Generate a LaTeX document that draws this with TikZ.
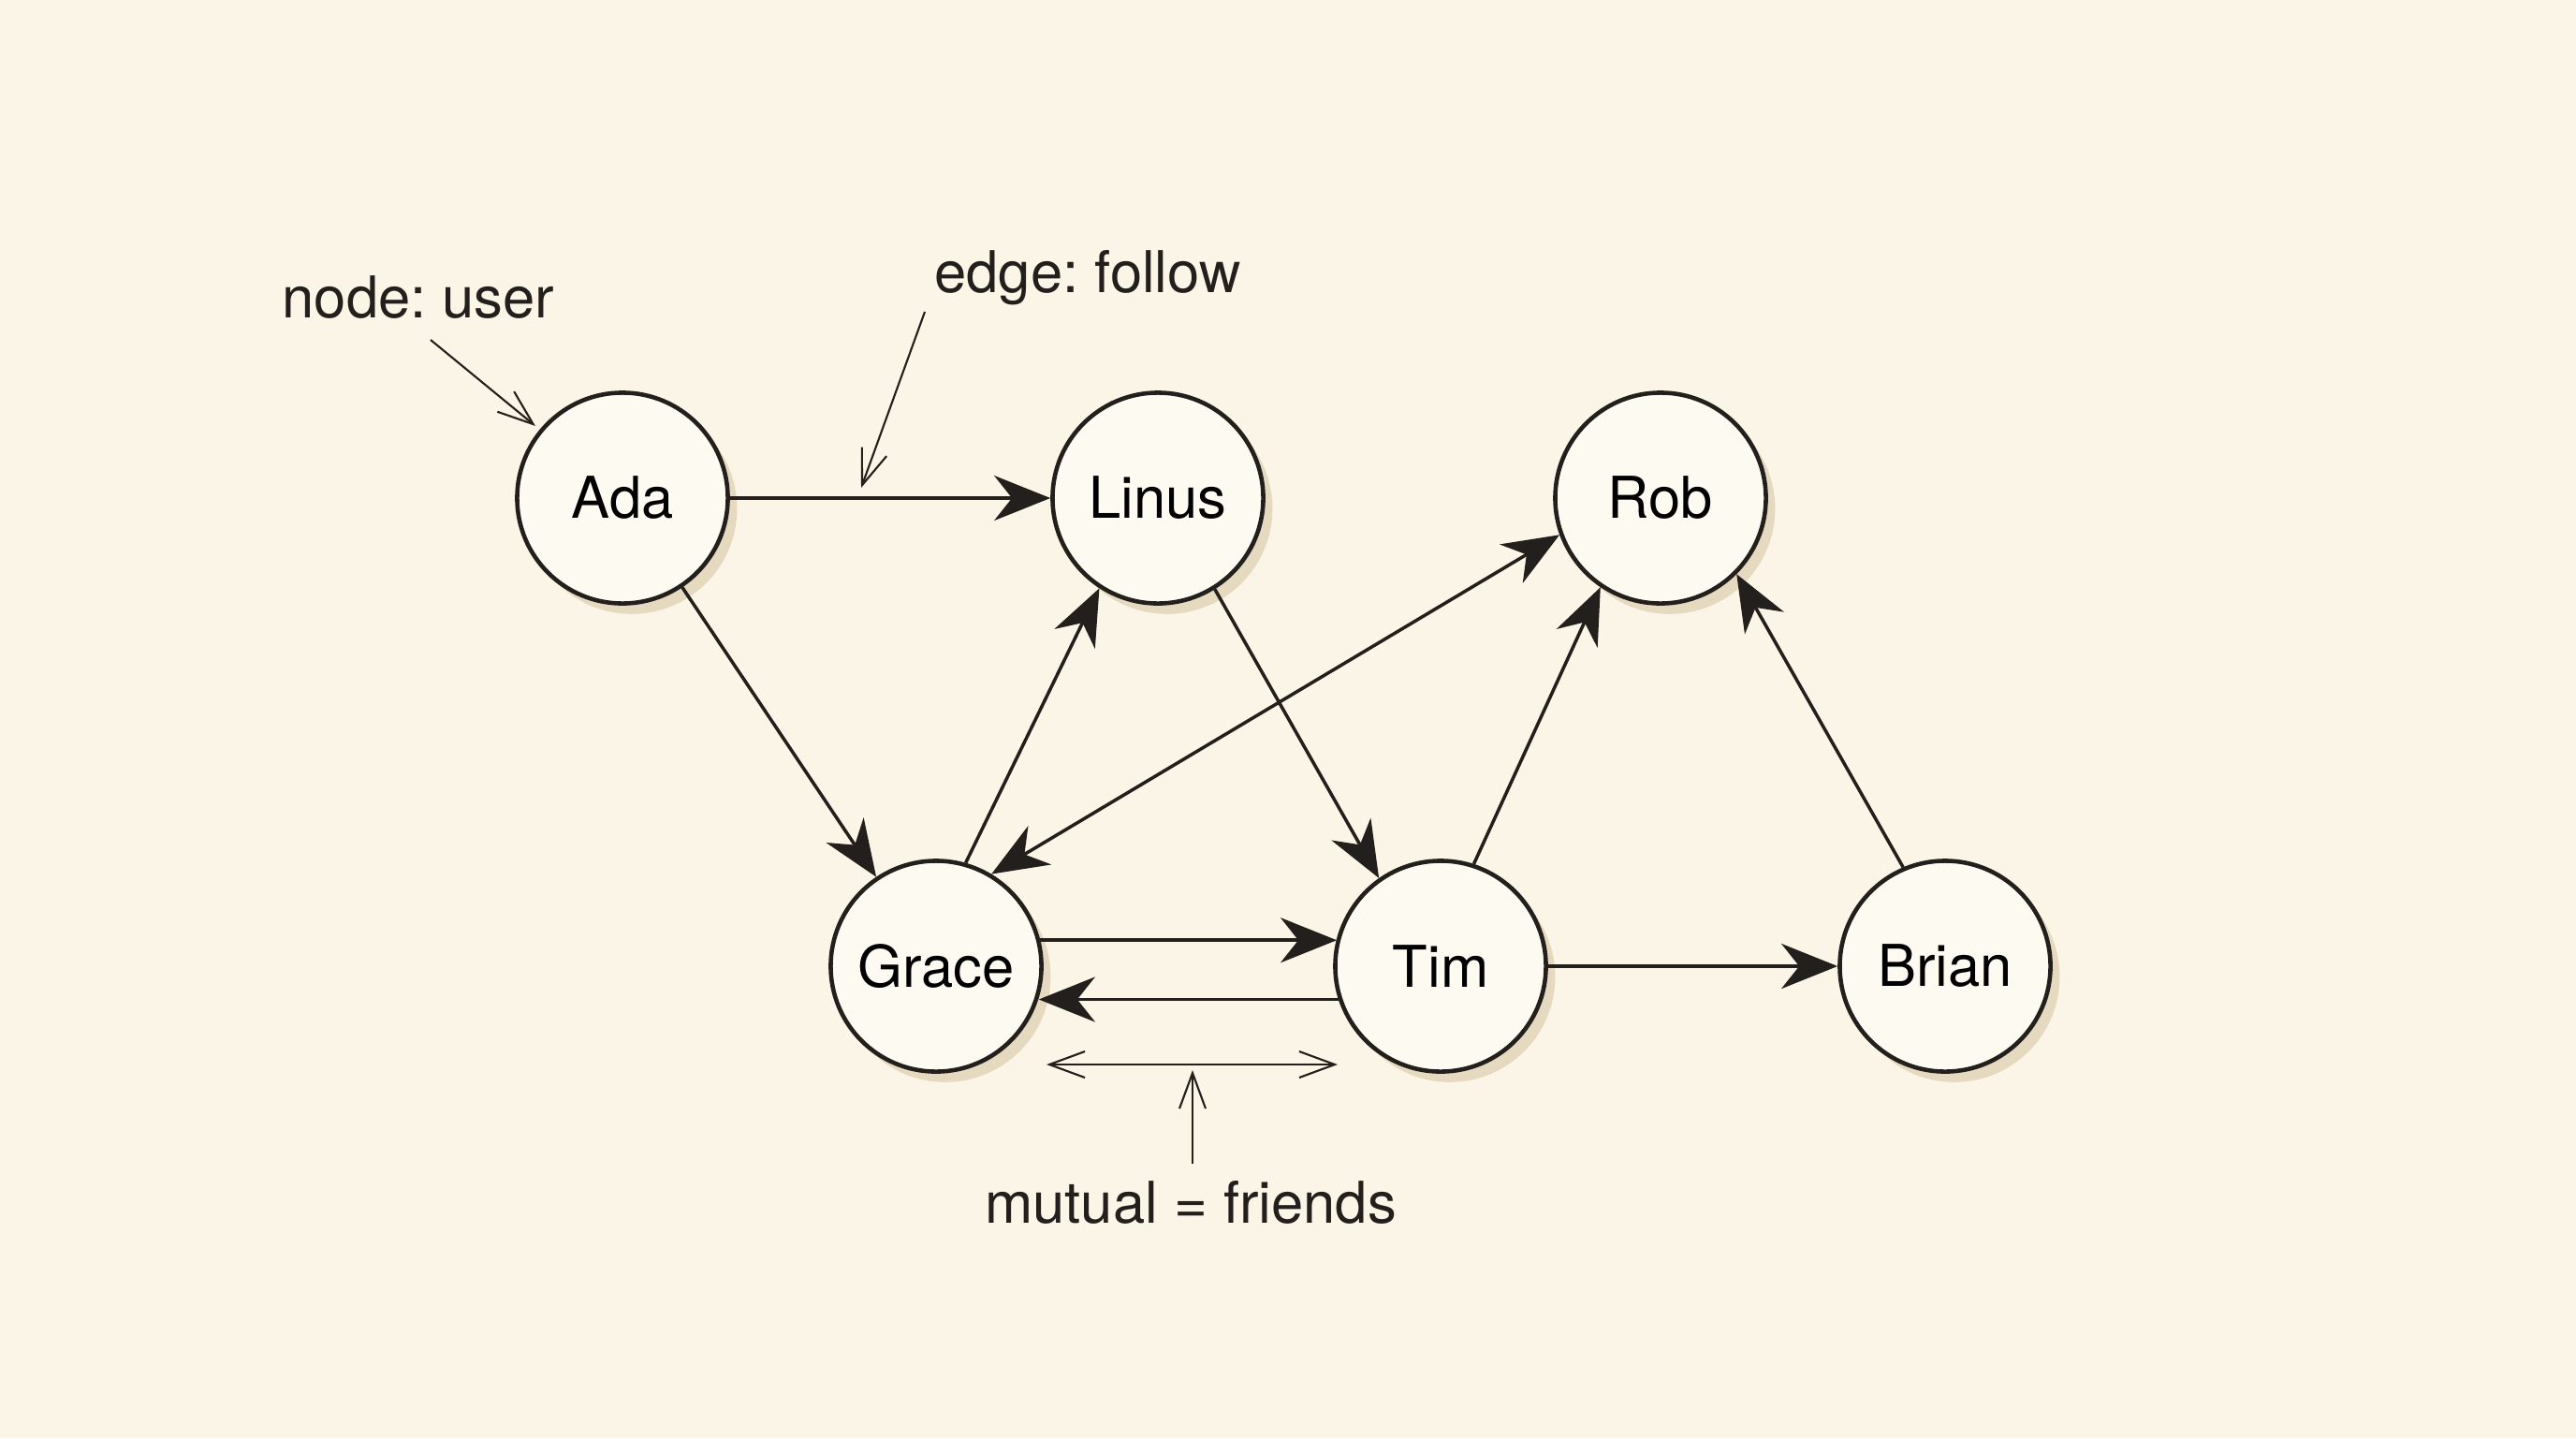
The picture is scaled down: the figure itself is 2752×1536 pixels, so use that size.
\documentclass[tikz,border=0pt]{standalone}
\usepackage{fontspec}
\setmainfont{TeX Gyre Heros}
\frenchspacing
\usetikzlibrary{arrows.meta,shadows}
\definecolor{paper}{HTML}{FAF5E6}
\definecolor{disc}{HTML}{FDFAF1}
\definecolor{shade}{HTML}{D8C7A6}
\definecolor{ink}{HTML}{231F1C}
\begin{document}
\begin{tikzpicture}[x=0.01cm,y=-0.01cm,
  user/.style={circle,draw=ink,line width=1.3pt,fill=disc,minimum size=2.25cm,inner sep=0pt,
    font=\fontsize{17.5}{21}\selectfont,
    drop shadow={shadow xshift=2.8pt,shadow yshift=-3.2pt,fill=shade,opacity=0.6}},
  lbl/.style={font=\fontsize{17.5}{21}\selectfont,anchor=base,text=ink},
  tip/.tip={Stealth[length=6mm,width=4.8mm,inset=1.9mm]},
  follow/.style={draw=ink,line width=1pt,-tip},
  both/.style={draw=ink,line width=1pt,tip-tip},
  barb/.tip={Straight Barb[length=3.8mm,width=2.8mm]},
  note/.style={draw=ink,line width=0.6pt,-barb},
  notes/.style={draw=ink,line width=0.6pt,barb-barb}
]
\fill[paper] (0,0) rectangle (2752,1536);
\useasboundingbox (0,0) rectangle (2752,1536);

\node[user] (ada) at (665,532) {Ada};
\node[user] (linus) at (1237,532) {Linus};
\node[user] (rob) at (1774,532) {Rob};
\node[user] (grace) at (1000,1032) {Grace};
\node[user] (tim) at (1539,1032) {Tim};
\node[user] (brian) at (2078,1032) {Brian};

\draw[follow] (ada) -- (linus);
\draw[follow] (ada) -- (grace);
\draw[follow] (grace.74) -- (linus.237);
\draw[follow] (linus.-58) -- (tim.125);
\draw[both] (grace.59) -- (rob.200);
\draw[follow] (tim.72) -- (rob.236);
\draw[follow] (brian.113) -- (rob.-45);
\draw[follow] (grace.14.5) -- (grace.14.5 -| tim.165.5);
\draw[follow] (tim.-162.7) -- (tim.-162.7 -| grace.-17.3);
\draw[follow] (tim) -- (brian);

\node[lbl] (nodelbl) at (447,339) {node: user};
\node[lbl] (edgelbl) at (1162,312) {edge: follow};
\node[lbl] (mutlbl) at (1272,1306) {mutual = friends};

\coordinate (n1) at (460,363);
\coordinate (n2) at (572,455);
\coordinate (e1) at (988,333);
\coordinate (e2) at (920,521);
\coordinate (m1) at (1118,1137);
\coordinate (m2) at (1429,1137);
\coordinate (u1) at (1274,1243);
\coordinate (u2) at (1274,1143);

\draw[note] (n1) -- (n2);
\draw[note] (e1) -- (e2);
\draw[notes] (m1) -- (m2);
\draw[note] (u1) -- (u2);
\end{tikzpicture}
\end{document}
